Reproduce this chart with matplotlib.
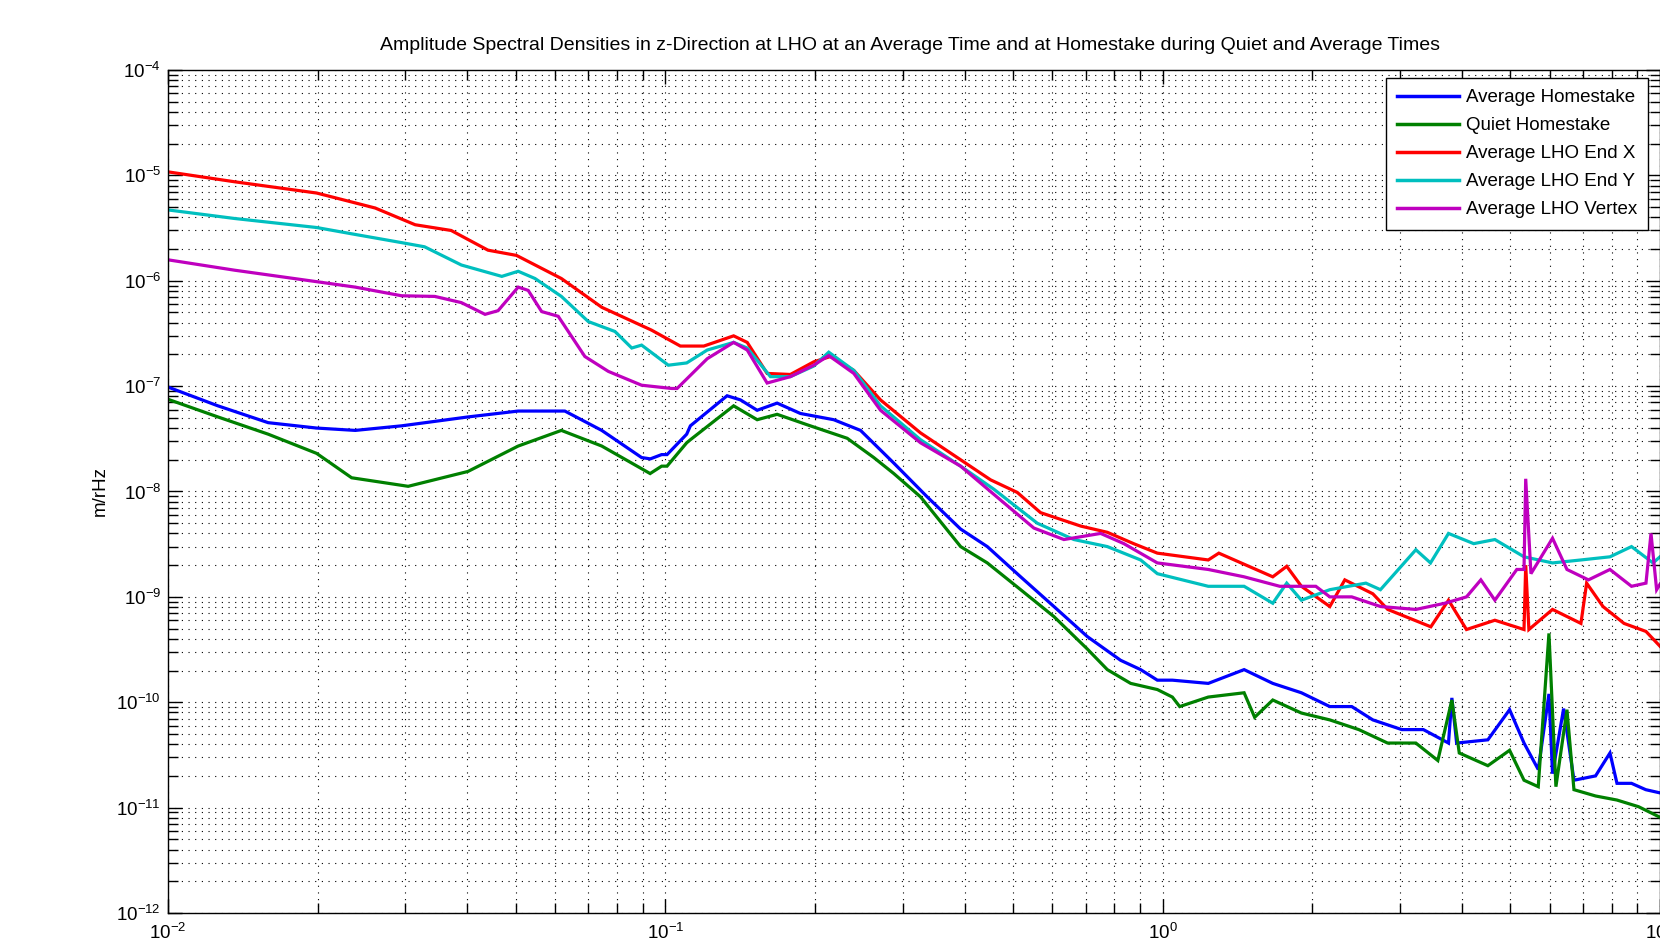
import matplotlib
matplotlib.use("Agg")
import matplotlib.pyplot as plt
from matplotlib.ticker import LogLocator, FixedLocator, FixedFormatter, NullFormatter

plt.rcParams['font.family'] = ['Liberation Sans', 'DejaVu Sans']
plt.rcParams['axes.unicode_minus'] = False

# ---------------- data ----------------
f_avg_home = [0.0100, 0.0126, 0.0159, 0.0199, 0.0238, 0.0295, 0.0401, 0.0506, 0.0628, 0.0745,
              0.0896, 0.0933, 0.0983, 0.1008, 0.1104, 0.1123, 0.1331, 0.1416, 0.1530, 0.1678,
              0.1869, 0.2181, 0.2469, 0.2880, 0.3361, 0.3924, 0.4440, 0.5181, 0.6044, 0.7055,
              0.8232, 0.9031, 0.9757, 1.046, 1.235, 1.458, 1.665, 1.901, 2.168, 2.400,
              2.646, 3.026, 3.344, 3.756, 3.815, 3.90, 4.507, 4.984, 5.328, 5.691,
              5.980, 6.080, 6.40, 6.714, 7.420, 7.932, 8.194, 8.764, 9.363, 10.0]
a_avg_home = [9.8e-8, 6.5e-8, 4.5e-8, 4.0e-8, 3.8e-8, 4.2e-8, 5.1e-8, 5.8e-8, 5.8e-8, 3.8e-8,
              2.1e-8, 2.04e-8, 2.24e-8, 2.24e-8, 3.5e-8, 4.2e-8, 8.1e-8, 7.4e-8, 5.9e-8, 6.9e-8,
              5.5e-8, 4.8e-8, 3.8e-8, 1.86e-8, 8.9e-9, 4.4e-9, 3.0e-9, 1.55e-9, 8.1e-10, 4.2e-10,
              2.5e-10, 2.04e-10, 1.62e-10, 1.62e-10, 1.51e-10, 2.04e-10, 1.51e-10, 1.23e-10, 9.1e-11, 9.1e-11,
              6.8e-11, 5.5e-11, 5.5e-11, 4.1e-11, 1.1e-10, 4.1e-11, 4.4e-11, 8.5e-11, 4.1e-11, 2.3e-11,
              1.2e-10, 2.1e-11, 8.7e-11, 1.82e-11, 2.0e-11, 3.3e-11, 1.7e-11, 1.7e-11, 1.48e-11, 1.38e-11]

f_quiet_home = [0.0100, 0.0126, 0.0159, 0.0199, 0.0234, 0.0304, 0.0401, 0.0506, 0.0618, 0.0745,
                0.0932, 0.0983, 0.1008, 0.1104, 0.1123, 0.1372, 0.1530, 0.1678, 0.1928, 0.2321,
                0.2625, 0.2880, 0.3259, 0.3924, 0.4440, 0.5181, 0.6044, 0.7055, 0.7740, 0.8623,
                0.9757, 1.046, 1.082, 1.235, 1.458, 1.531, 1.665, 1.901, 2.168, 2.480,
                2.833, 3.229, 3.575, 3.815, 3.948, 4.507, 4.984, 5.328, 5.691, 5.980,
                6.176, 6.500, 6.714, 7.420, 8.194, 9.057, 10.0]
a_quiet_home = [7.5e-8, 5.1e-8, 3.5e-8, 2.3e-8, 1.35e-8, 1.12e-8, 1.55e-8, 2.7e-8, 3.8e-8, 2.7e-8,
                1.48e-8, 1.74e-8, 1.74e-8, 2.9e-8, 3.1e-8, 6.5e-8, 4.8e-8, 5.4e-8, 4.3e-8, 3.2e-8,
                2.1e-8, 1.48e-8, 8.9e-9, 3.0e-9, 2.1e-9, 1.17e-9, 6.5e-10, 3.2e-10, 2.04e-10, 1.51e-10,
                1.32e-10, 1.12e-10, 9.1e-11, 1.12e-10, 1.23e-10, 7.2e-11, 1.05e-10, 7.9e-11, 6.8e-11, 5.5e-11,
                4.1e-11, 4.1e-11, 2.8e-11, 1.05e-10, 3.3e-11, 2.5e-11, 3.5e-11, 1.82e-11, 1.58e-11, 4.5e-10,
                1.58e-11, 8.5e-11, 1.48e-11, 1.29e-11, 1.18e-11, 1.02e-11, 8.1e-12]

f_end_x = [0.0100, 0.0136, 0.0199, 0.0261, 0.0314, 0.0371, 0.0440, 0.0502, 0.0618, 0.0745,
           0.0938, 0.1072, 0.1195, 0.1372, 0.1461, 0.1602, 0.1784, 0.1988, 0.2148, 0.2393,
           0.2708, 0.3259, 0.3924, 0.4508, 0.5101, 0.5682, 0.6839, 0.7740, 0.8742, 0.9757,
           1.235, 1.297, 1.665, 1.776, 1.901, 2.168, 2.324, 2.646, 2.835, 3.461,
           3.756, 4.082, 4.656, 5.328, 5.370, 5.450, 6.080, 6.934, 7.120, 7.680,
           8.465, 9.371, 10.0]
a_end_x = [1.08e-5, 8.7e-6, 6.8e-6, 4.9e-6, 3.4e-6, 3.0e-6, 1.95e-6, 1.74e-6, 1.05e-6, 5.6e-7,
           3.4e-7, 2.4e-7, 2.4e-7, 3.0e-7, 2.6e-7, 1.32e-7, 1.29e-7, 1.70e-7, 1.91e-7, 1.41e-7,
           7.4e-8, 3.6e-8, 2.0e-8, 1.29e-8, 9.8e-9, 6.3e-9, 4.7e-9, 4.1e-9, 3.2e-9, 2.6e-9,
           2.24e-9, 2.6e-9, 1.55e-9, 1.95e-9, 1.26e-9, 8.1e-10, 1.45e-9, 1.07e-9, 7.6e-10, 5.2e-10,
           9.3e-10, 4.9e-10, 6.0e-10, 4.9e-10, 2.0e-9, 4.9e-10, 7.6e-10, 5.6e-10, 1.35e-9, 8.1e-10,
           5.6e-10, 4.7e-10, 3.4e-10]

f_end_y = [0.0100, 0.0136, 0.0199, 0.0238, 0.0295, 0.0328, 0.0389, 0.0469, 0.0506, 0.0547,
           0.0618, 0.0700, 0.0792, 0.0856, 0.0896, 0.1014, 0.1104, 0.1214, 0.1372, 0.1461,
           0.1627, 0.1784, 0.1988, 0.2131, 0.2393, 0.2708, 0.3259, 0.3924, 0.4578, 0.5596,
           0.6630, 0.7740, 0.9031, 0.9757, 1.235, 1.458, 1.665, 1.776, 1.901, 2.168,
           2.562, 2.741, 3.229, 3.456, 3.756, 4.221, 4.656, 5.328, 6.080, 6.934,
           7.932, 8.764, 9.681, 10.0]
a_end_y = [4.7e-6, 3.9e-6, 3.2e-6, 2.75e-6, 2.3e-6, 2.1e-6, 1.41e-6, 1.10e-6, 1.23e-6, 1.05e-6,
           7.1e-7, 4.1e-7, 3.3e-7, 2.3e-7, 2.45e-7, 1.58e-7, 1.66e-7, 2.2e-7, 2.6e-7, 2.3e-7,
           1.23e-7, 1.23e-7, 1.55e-7, 2.1e-7, 1.41e-7, 6.5e-8, 3.1e-8, 1.74e-8, 1.05e-8, 5.0e-9,
           3.5e-9, 3.0e-9, 2.24e-9, 1.66e-9, 1.26e-9, 1.26e-9, 8.7e-10, 1.35e-9, 9.3e-10, 1.17e-9,
           1.35e-9, 1.17e-9, 2.8e-9, 2.1e-9, 4.0e-9, 3.2e-9, 3.5e-9, 2.4e-9, 2.1e-9, 2.24e-9,
           2.4e-9, 3.0e-9, 2.1e-9, 2.4e-9]

f_vertex = [0.0100, 0.0136, 0.0199, 0.0238, 0.0295, 0.0344, 0.0389, 0.0434, 0.0461, 0.0506,
            0.0530, 0.0564, 0.0609, 0.0689, 0.0768, 0.0896, 0.1030, 0.1056, 0.1214, 0.1372,
            0.1461, 0.1602, 0.1784, 0.1988, 0.2131, 0.2393, 0.2708, 0.3259, 0.3924, 0.4721,
            0.5508, 0.6330, 0.7504, 0.8357, 0.9757, 1.235, 1.458, 1.720, 2.032, 2.168,
            2.400, 2.741, 3.229, 3.693, 4.082, 4.363, 4.656, 5.153, 5.328, 5.370,
            5.502, 6.080, 6.500, 7.180, 7.932, 8.764, 9.371, 9.592, 9.845, 10.0]
a_vertex = [1.58e-6, 1.26e-6, 9.8e-7, 8.7e-7, 7.2e-7, 7.1e-7, 6.2e-7, 4.8e-7, 5.2e-7, 8.7e-7,
            8.1e-7, 5.1e-7, 4.6e-7, 1.91e-7, 1.38e-7, 1.02e-7, 9.5e-8, 9.5e-8, 1.82e-7, 2.6e-7,
            2.2e-7, 1.07e-7, 1.23e-7, 1.58e-7, 1.95e-7, 1.32e-7, 5.9e-8, 2.9e-8, 1.74e-8, 8.3e-9,
            4.5e-9, 3.5e-9, 4.0e-9, 3.2e-9, 2.1e-9, 1.82e-9, 1.55e-9, 1.26e-9, 1.26e-9, 1.0e-9,
            1.0e-9, 8.1e-10, 7.6e-10, 8.7e-10, 1.0e-9, 1.45e-9, 9.3e-10, 1.82e-9, 1.82e-9, 1.32e-8,
            1.66e-9, 3.6e-9, 1.82e-9, 1.45e-9, 1.82e-9, 1.26e-9, 1.35e-9, 4.0e-9, 1.17e-9, 1.32e-9]

series_labels = ["Average Homestake", "Quiet Homestake", "Average LHO End X",
                 "Average LHO End Y", "Average LHO Vertex"]
series_colors = ["#0000FF", "#008000", "#FF0000", "#00BFBF", "#BF00BF"]

y_tick_values = [1e-12, 1e-11, 1e-10, 1e-9, 1e-8, 1e-7, 1e-6, 1e-5, 1e-4]
y_tick_labels = [r"$\mathregular{10^{-12}}$", r"$\mathregular{10^{-11}}$", r"$\mathregular{10^{-10}}$",
                 r"$\mathregular{10^{-9}}$", r"$\mathregular{10^{-8}}$", r"$\mathregular{10^{-7}}$",
                 r"$\mathregular{10^{-6}}$", r"$\mathregular{10^{-5}}$", r"$\mathregular{10^{-4}}$"]
x_tick_values = [1e-2, 1e-1, 1e0, 1e1]
x_tick_labels = [r"$\mathregular{10^{-2}}$", r"$\mathregular{10^{-1}}$",
                 r"$\mathregular{10^{0}}$", r"$\mathregular{10^{1}}$"]

title_text = ("Amplitude Spectral Densities in z-Direction at LHO at an Average Time "
              "and at Homestake during Quiet and Average Times")
ylabel_text = "m/rHz"

# ---------------- figure ----------------
W, H = 1660, 947
fig = plt.figure(figsize=(W / 100, H / 100), dpi=100)
fig.patch.set_facecolor("white")
ax = fig.add_axes([168 / W, (H - 913) / H, (1660 - 168) / W, (913 - 70) / H])

xs = [f_avg_home, f_quiet_home, f_end_x, f_end_y, f_vertex]
ys = [a_avg_home, a_quiet_home, a_end_x, a_end_y, a_vertex]
for fx, ay, lab, col in zip(xs, ys, series_labels, series_colors):
    ax.plot(fx, ay, color=col, lw=2.3, label=lab, solid_joinstyle="miter")

ax.set_xscale("log")
ax.set_yscale("log")
ax.set_xlim(1e-2, 1e1)
ax.set_ylim(1e-12, 1e-4)

ax.xaxis.set_major_locator(FixedLocator(x_tick_values))
ax.xaxis.set_major_formatter(FixedFormatter(x_tick_labels))
ax.yaxis.set_major_locator(FixedLocator(y_tick_values))
ax.yaxis.set_major_formatter(FixedFormatter(y_tick_labels))
ax.xaxis.set_minor_locator(LogLocator(base=10, subs=range(2, 10), numticks=50))
ax.yaxis.set_minor_locator(LogLocator(base=10, subs=range(2, 10), numticks=50))
ax.xaxis.set_minor_formatter(NullFormatter())
ax.yaxis.set_minor_formatter(NullFormatter())

ax.tick_params(which="both", direction="in", top=True, right=True, colors="black")
ax.tick_params(which="major", length=10, width=1.0, labelsize=13.5)
ax.tick_params(which="minor", length=7, width=1.0)
ax.tick_params(axis="x", which="major", pad=7)
ax.tick_params(axis="y", which="major", pad=5)

ax.grid(True, which="major", color="black", linestyle=(0, (1, 5)), lw=0.8)
ax.grid(True, which="minor", color="black", linestyle=(0, (1, 5)), lw=0.8)
ax.set_axisbelow(True)
for sp in ax.spines.values():
    sp.set_linewidth(1.0)
    sp.set_color("black")

leg = ax.legend(loc="upper right", bbox_to_anchor=((1648 - 168) / 1492, 1 - 8 / 843),
                borderaxespad=0.0, fontsize=13.5, frameon=True, fancybox=False,
                edgecolor="black", framealpha=1.0, handlelength=3.3, handletextpad=0.35,
                labelspacing=0.58, borderpad=0.6)
leg.get_frame().set_linewidth(1.0)
for line in leg.get_lines():
    line.set_linewidth(2.5)

fig.text(910 / W, 1 - 46 / H, title_text, ha="center", va="center", fontsize=14)
fig.text(100 / W, 1 - 491 / H, ylabel_text, ha="center", va="center", rotation=90, fontsize=13.5)

fig.savefig("out.png", dpi=100, facecolor="white")
